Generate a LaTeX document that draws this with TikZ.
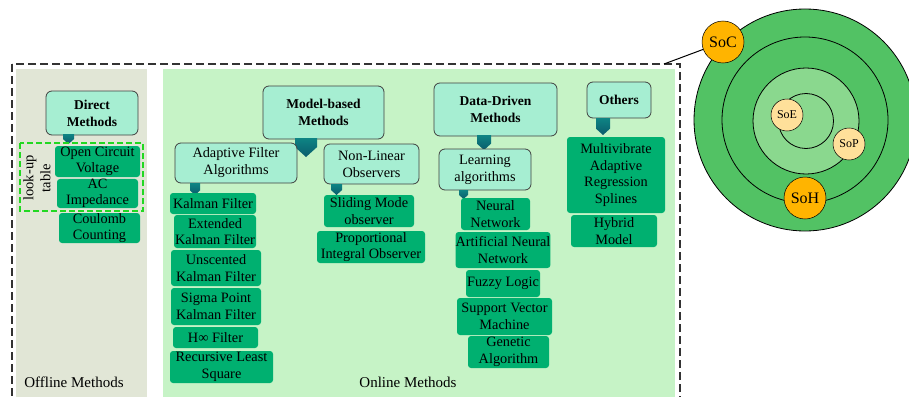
\documentclass[tikz,border=0pt]{standalone}
\usepackage{fontspec}
\setmainfont{Liberation Serif}
\definecolor{offbg}{HTML}{E1E6D6}
\definecolor{onbg}{HTML}{C6F3C6}
\definecolor{headfill}{HTML}{A6EED2}
\definecolor{itemfill}{HTML}{00B070}
\definecolor{tabtop}{HTML}{0E8484}
\definecolor{tabbot}{HTML}{0A5C6C}
\definecolor{lookg}{HTML}{22D822}
\definecolor{ringg}{HTML}{52C264}
\definecolor{lightg}{HTML}{8AD88E}
\definecolor{socor}{HTML}{FFB400}
\definecolor{soeor}{HTML}{FFE09A}
\newcommand{\mytab}[4]{% x1 x2 ytop ybottom
  \shade[top color=tabtop,bottom color=tabbot] (#1,#3) -- (#2,#3) -- (#2,{#4-0.45*(#2-#1)}) -- ({(#1+#2)/2},#4) -- (#1,{#4-0.45*(#2-#1)}) -- cycle;}
\begin{document}
\begin{tikzpicture}[x=1pt,y=-1pt,
  header/.style={draw=black!75,line width=0.8pt,fill=headfill,rounded corners=6pt,inner sep=0pt,align=center,font=\fontsize{13.5}{17}\selectfont\bfseries},
  sub/.style={draw=black!75,line width=0.8pt,fill=headfill,rounded corners=6pt,inner sep=0pt,align=center,font=\fontsize{14.3}{17}\selectfont},
  item/.style={fill=itemfill,rounded corners=3pt,inner sep=0pt,align=center,font=\fontsize{14.3}{16.5}\selectfont},
  panellabel/.style={font=\fontsize{15}{18}\selectfont},
  ring/.style={draw=black,line width=0.8pt},
  state/.style={circle,draw=black,line width=0.5pt,inner sep=0pt}]
\useasboundingbox (0,0) rectangle (909,396);
\begin{scope}
\clip (0,0) rectangle (909,396);
% panels
\fill[offbg] (16,69) rectangle (147,400);
\fill[onbg] (163,69) rectangle (675,400);
\draw[black!80,line width=1.3pt,dash pattern=on 8pt off 4pt] (12,64) rectangle (680,410);
\coordinate (linestart) at (664,64);
% circles
\draw[ring,fill=ringg] (805,120) circle (111);
\draw[ring] (805,120) circle (83);
\draw[ring,fill=lightg] (806,121) circle (53);
\draw[ring] (806,121) circle (27.5);
\end{scope}
\node[state,fill=socor,minimum size=42pt,font=\fontsize{16}{18}\selectfont] (soc) at (723,42) {SoC};
\node[state,fill=socor,minimum size=42pt,font=\fontsize{16}{18}\selectfont] (soh) at (805,198) {SoH};
\node[state,fill=soeor,minimum size=32pt,font=\fontsize{12}{14}\selectfont] (soe) at (787,115) {SoE};
\node[state,fill=soeor,minimum size=32pt,font=\fontsize{12}{14}\selectfont] (sop) at (849,144) {SoP};
\draw[black,line width=1pt] (linestart) -- (soc);

% Offline
\node[header,minimum width=92pt,minimum height=44pt] (direct) at (92,113) {Direct\\Methods};
\mytab{63}{74}{134}{144}
\node[item,minimum width=85pt,minimum height=31pt] (ocv) at (97.5,161.5) {Open Circuit\\Voltage};
\node[item,minimum width=81pt,minimum height=27pt] (acimp) at (97.5,193.5) {AC\\Impedance};
\node[item,minimum width=81pt,minimum height=30pt] (coul) at (99.5,228) {Coulomb\\Counting};
\draw[lookg,line width=1.2pt,dash pattern=on 6pt off 3pt] (20,143) rectangle (143,211);
\node[rotate=90,align=center,font=\fontsize{14.5}{17}\selectfont] (lut) at (37,178) {look-up\\table};
\node[panellabel] (offl) at (74,382) {Offline Methods};

% Model-based
\node[header,minimum width=121pt,minimum height=53pt] (model) at (323.5,112.5) {Model-based\\Methods};
\mytab{295}{317}{138}{157}
\node[sub,minimum width=122pt,minimum height=40pt] (adapt) at (236,163) {Adaptive Filter\\Algorithms};
\node[sub,minimum width=95pt,minimum height=40pt] (nonlin) at (371.5,164) {Non-Linear\\Observers};
\mytab{190}{200}{183}{195}
\node[item,minimum width=86pt,minimum height=21pt] (kf) at (213,203.5) {Kalman Filter};
\node[item,minimum width=82pt,minimum height=33pt] (ekf) at (215,231.5) {Extended\\Kalman Filter};
\node[item,minimum width=90pt,minimum height=36pt] (ukf) at (216,268) {Unscented\\Kalman Filter};
\node[item,minimum width=90pt,minimum height=37pt] (spkf) at (216,306.5) {Sigma Point\\Kalman Filter};
\node[item,minimum width=85pt,minimum height=21pt] (hinf) at (215.5,337.5) {H∞ Filter};
\node[item,minimum width=103pt,minimum height=32pt] (rls) at (221.5,367) {Recursive Least\\Square};
\mytab{331}{342}{184}{195}
\node[item,minimum width=90pt,minimum height=32pt] (smo) at (369,211) {Sliding Mode\\observer};
\node[item,minimum width=108pt,minimum height=32pt] (pio) at (371,247) {Proportional\\Integral Observer};
\node[panellabel] (onl) at (408,382) {Online Methods};

% Data-driven
\node[header,minimum width=123pt,minimum height=53pt] (dd) at (495.5,109.5) {Data-Driven\\Methods};
\mytab{477}{491}{135}{150}
\node[sub,minimum width=92pt,minimum height=41pt] (learn) at (485,169.5) {Learning\\algorithms};
\mytab{459}{468}{190}{199}
\node[item,minimum width=69pt,minimum height=32pt] (nn) at (495.5,214) {Neural\\Network};
\node[item,minimum width=94pt,minimum height=36pt] (ann) at (503,250) {Artificial Neural\\Network};
\node[item,minimum width=74pt,minimum height=27pt] (fuzzy) at (503,283.5) {Fuzzy Logic};
\node[item,minimum width=95pt,minimum height=37pt] (svm) at (504.5,316.5) {Support Vector\\Machine};
\node[item,minimum width=81pt,minimum height=32pt] (ga) at (508.5,352) {Genetic\\Algorithm};

% Others
\node[header,minimum width=64pt,minimum height=36pt] (others) at (619,100) {Others};
\mytab{596}{610}{118}{135}
\node[item,minimum width=98pt,minimum height=76pt] (mars) at (616,175) {Multivibrate\\Adaptive\\Regression\\Splines};
\node[item,minimum width=86pt,minimum height=32pt] (hybrid) at (614,231) {Hybrid\\Model};
\end{tikzpicture}
\end{document}
